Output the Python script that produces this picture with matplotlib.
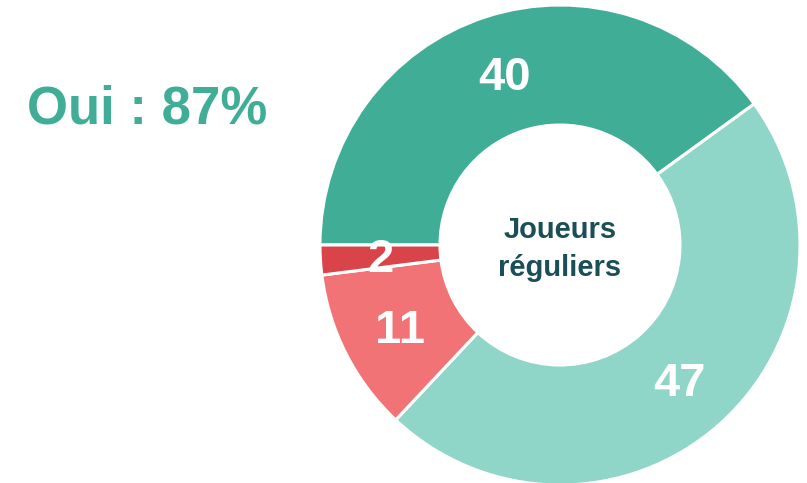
import numpy as np
import matplotlib.pyplot as plt

plt.rcParams['font.family'] = ['Liberation Sans', 'DejaVu Sans']

# data
values = [40, 47, 11, 2]
colors = ['#40ae96', '#8fd6c8', '#f27376', '#d9434a']
center_label = "Joueurs\nréguliers"
headline = "Oui : 87%"

fig = plt.figure(figsize=(8.07, 4.83), dpi=100)
W, H = 807, 483
cx, cy, R = 560, 245, 240
ax = fig.add_axes([(cx - R) / W, (H - cy - R) / H, 2 * R / W, 2 * R / H])

wedges, _ = ax.pie(values, colors=colors, startangle=180, counterclock=False,
                   radius=1.0, wedgeprops=dict(width=0.5, edgecolor='white', linewidth=2.2))
for w in wedges:
    w.set_clip_on(False)
ax.set_xlim(-1, 1)
ax.set_ylim(-1, 1)
ax.set_aspect('equal')
ax.axis('off')

# value labels in the middle of each ring segment
for w, v in zip(wedges, values):
    ang = np.deg2rad((w.theta1 + w.theta2) / 2)
    ax.text(0.75 * np.cos(ang), 0.75 * np.sin(ang) - 4 / R, str(v), ha='center', va='center',
            color='white', fontsize=34, fontweight='bold')

ax.text(0, -4 / R, center_label, ha='center', va='center', color='#1a4f57',
        fontsize=21, fontweight='bold', linespacing=1.42)

fig.text(147 / W, (H - 123) / H, headline, ha='center', va='baseline',
         color='#40ae96', fontsize=38, fontweight='bold')

fig.savefig('out.png', dpi=100)
